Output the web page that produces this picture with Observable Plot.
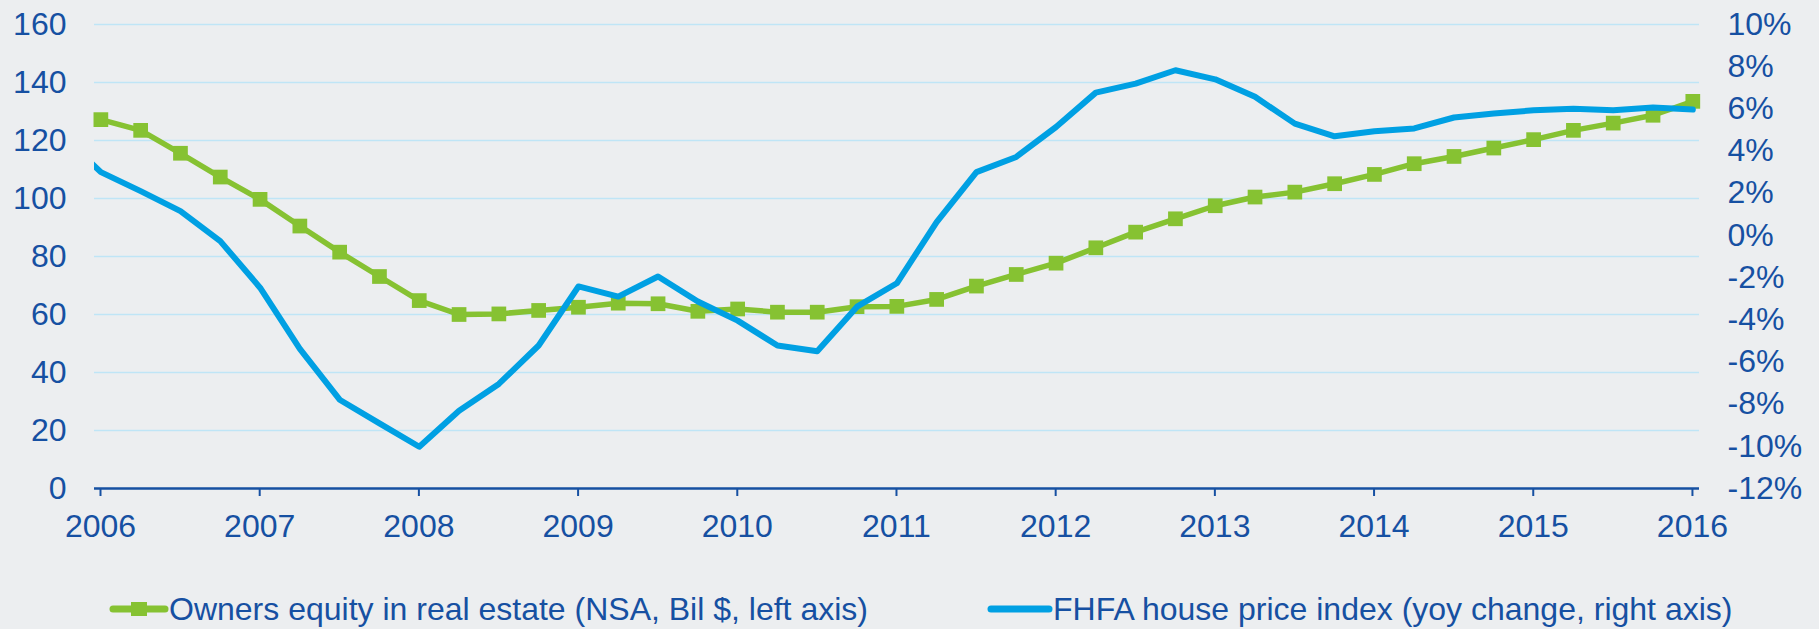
<!DOCTYPE html>
<html>
<head>
<meta charset="utf-8">
<script src="https://cdn.jsdelivr.net/npm/d3@7"></script>
<script src="https://cdn.jsdelivr.net/npm/@observablehq/plot@0.6"></script>
<style>
  html, body { margin: 0; padding: 0; background: #ECEEF0; }
  body { width: 1819px; height: 629px; overflow: hidden; font-family: "Liberation Sans", Arial, sans-serif; }
  #wrap { position: relative; width: 1819px; height: 629px; }
  #chart svg { display: block; }
  .legend-item { position: absolute; top: 590px; height: 38px; display: flex; align-items: center; color: #1650A2; font-size: 32px; line-height: 38px; white-space: nowrap; }
  .legend-item svg { display: block; }
</style>
</head>
<body>
<div id="wrap">
  <div id="chart"></div>
  <div class="legend-item" id="leg1" style="left:109px;"></div>
  <div class="legend-item" id="leg2" style="left:987px;"></div>
</div>
<script>
// Quarterly observations (2005Q4 only exists for the FHFA series; it is clipped at the frame)
const quarters = ["2005Q4",
  "2006Q1","2006Q2","2006Q3","2006Q4","2007Q1","2007Q2","2007Q3","2007Q4",
  "2008Q1","2008Q2","2008Q3","2008Q4","2009Q1","2009Q2","2009Q3","2009Q4",
  "2010Q1","2010Q2","2010Q3","2010Q4","2011Q1","2011Q2","2011Q3","2011Q4",
  "2012Q1","2012Q2","2012Q3","2012Q4","2013Q1","2013Q2","2013Q3","2013Q4",
  "2014Q1","2014Q2","2014Q3","2014Q4","2015Q1","2015Q2","2015Q3","2015Q4",
  "2016Q1"];

// Owners equity in real estate (NSA, Bil $, left axis)
const equity = [null,
  127.2, 123.5, 115.6, 107.4, 99.7, 90.5, 81.5, 73.1,
  64.8, 60.0, 60.2, 61.4, 62.5, 63.9, 63.7, 61.1,
  61.9, 60.8, 60.8, 62.7, 62.8, 65.2, 69.8, 73.8,
  77.7, 83.0, 88.4, 93.0, 97.5, 100.5, 102.2, 105.1,
  108.3, 112.0, 114.5, 117.4, 120.3, 123.5, 126.0, 128.7,
  133.5];

// FHFA house price index (yoy change %, right axis)
const hpi = [4.8,
  3.0, 2.1, 1.15, -0.27, -2.48, -5.38, -7.79, -8.91,
  -10.02, -8.31, -7.04, -5.22, -2.42, -2.9, -1.95, -3.13,
  -4.04, -5.22, -5.49, -3.38, -2.27, 0.63, 3.0, 3.72,
  5.14, 6.77, 7.2, 7.83, 7.4, 6.57, 5.30, 4.70,
  4.94, 5.07, 5.59, 5.78, 5.93, 6.01, 5.93, 6.06,
  5.97];

const yearTicks = [2006, 2007, 2008, 2009, 2010, 2011, 2012, 2013, 2014, 2015, 2016];
const leftTicks = [0, 20, 40, 60, 80, 100, 120, 140, 160];
const rightTicks = [-12, -10, -8, -6, -4, -2, 0, 2, 4, 6, 8, 10];

const seriesNames = ["Owners equity in real estate (NSA, Bil $, left axis)",
                     "FHFA house price index (yoy change, right axis)"];

const GREEN = "#86C232";
const BLUE = "#00A0E3";
const TEXT = "#1650A2";
const GRID = "#BFE5F6";
const FS = 32;

// mapping from quarter label to a position on the time axis (mid-month of quarter start)
const qPos = q => +q.slice(0, 4) + (+q.slice(5) - 1) / 4 + 0.04;
// right axis (-12%..10%) mapped onto the left scale (0..160)
const leftMin = 0, leftMax = 160, rightMin = -12, rightMax = 10;
const toLeft = p => leftMin + (p - rightMin) * (leftMax - leftMin) / (rightMax - rightMin);
const fromLeft = v => rightMin + (v - leftMin) * (rightMax - rightMin) / (leftMax - leftMin);

const rows = quarters.map((q, i) => ({x: qPos(q), equity: equity[i], hpi: hpi[i], hpiL: toLeft(hpi[i])}));

const chart = Plot.plot({
  width: 1819,
  height: 560,
  marginTop: 24,
  marginBottom: 72,
  marginLeft: 94,
  marginRight: 120,
  style: {background: "#ECEEF0", fontFamily: "Liberation Sans, Arial, sans-serif", fontSize: FS + "px", color: TEXT},
  x: {type: "linear", domain: [2006, 2016.082]},
  y: {domain: [leftMin, leftMax]},
  marks: [
    Plot.gridY(leftTicks.filter(d => d > 0), {stroke: GRID, strokeOpacity: 1, strokeWidth: 1.6}),
    Plot.axisY(leftTicks, {anchor: "left", tickSize: 0, tickPadding: 28, label: null, fill: TEXT, fontSize: FS}),
    Plot.axisY(rightTicks.map(toLeft), {anchor: "right", tickSize: 0, tickPadding: 28, label: null, fill: TEXT, fontSize: FS,
      tickFormat: d => Math.round(fromLeft(d)) + "%"}),
    Plot.axisX(yearTicks, {anchor: "bottom", tickSize: 8, tickPadding: 18, label: null, fill: TEXT, stroke: TEXT, strokeWidth: 2,
      fontSize: FS, tickFormat: d => String(d), dx: 6}),
    Plot.ruleY([leftMin], {stroke: "#1650A2", strokeWidth: 2.6}),
    Plot.line(rows.filter(d => d.equity != null), {x: "x", y: "equity", stroke: GREEN, strokeWidth: 5.5, strokeLinejoin: "round"}),
    Plot.dot(rows.filter(d => d.equity != null), {x: "x", y: "equity", symbol: "square", r: 8.3, fill: GREEN, stroke: "none"}),
    Plot.line(rows, {x: "x", y: "hpiL", stroke: BLUE, strokeWidth: 6, strokeLinejoin: "round", strokeLinecap: "round", clip: true})
  ]
});
document.getElementById("chart").appendChild(chart);

// Legend (HTML, below the SVG)
function legendItem(el, name, color, withSquare, lineW) {
  const ns = "http://www.w3.org/2000/svg";
  const svg = document.createElementNS(ns, "svg");
  svg.setAttribute("width", lineW + 8);
  svg.setAttribute("height", 20);
  const line = document.createElementNS(ns, "line");
  line.setAttribute("x1", 4); line.setAttribute("x2", lineW + 4);
  line.setAttribute("y1", 10); line.setAttribute("y2", 10);
  line.setAttribute("stroke", color); line.setAttribute("stroke-width", 7);
  line.setAttribute("stroke-linecap", "round");
  svg.appendChild(line);
  if (withSquare) {
    const r = document.createElementNS(ns, "rect");
    r.setAttribute("x", 4 + lineW / 2 - 8); r.setAttribute("y", 3);
    r.setAttribute("width", 16); r.setAttribute("height", 14);
    r.setAttribute("fill", color);
    svg.appendChild(r);
  }
  el.appendChild(svg);
  const span = document.createElement("span");
  span.textContent = name;
  el.appendChild(span);
}
legendItem(document.getElementById("leg1"), seriesNames[0], GREEN, true, 52);
legendItem(document.getElementById("leg2"), seriesNames[1], BLUE, false, 58);
</script>
</body>
</html>
